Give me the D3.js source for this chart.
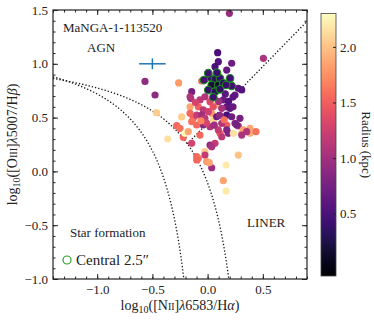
<!DOCTYPE html>
<html>
<head>
<meta charset="utf-8">
<script src="https://cdn.jsdelivr.net/npm/d3@7"></script>
<style>
  body { margin: 0; background: #fff; }
  svg text { font-family: "Liberation Serif", "DejaVu Serif", serif; fill: #222; }
</style>
</head>
<body>
<div id="stage"></div>
<script>
// spaxel line ratios (log10) and radius in kpc
const nii = [-0.567, -0.476, -0.262, -0.463, -0.361, -0.235, -0.280, -0.250, -0.220, -0.205,
  0.197, 0.505, 0.091, 0.097, 0.067, 0.218, 0.173, -0.053, 0.278, 0.309,
  0.248, -0.144, -0.153, -0.069, -0.024, 0.022, 0.082, 0.142, 0.173, 0.203,
  0.128, -0.084, -0.039, -0.159, -0.159, -0.130, -0.099, -0.053, -0.024, 0.037,
  0.052, 0.082, 0.173, 0.218, 0.293, 0.248, 0.278, 0.173, 0.128, 0.022,
  -0.039, -0.099, -0.144, -0.175, -0.069, -0.144, 0.112, 0.128, 0.188, 0.233,
  0.309, 0.323, 0.384, 0.384, 0.438, 0.354, 0.022, 0.067, -0.024, -0.099,
  0.278, -0.084, -0.024, 0.006, 0.173, 0.097, 0.264, 0.309, 0.037, -0.008,
  0.037, 0.167, 0.015, 0.142, 0.167, -0.099, -0.159, 0.230,
  0.160, 0.190, -0.110, 0.050, 0.110, -0.010, 0.060, 0.230, -0.060, 0.150, 0.100];
const oiii = [0.836, 0.710, 0.822, 0.546, 0.301, 0.506, 0.425, 0.399, 0.317, 0.354,
  1.469, 1.051, 1.103, 1.020, 0.973, 1.005, 0.942, 0.840, 0.772, 0.757,
  0.710, 0.741, 0.679, 0.664, 0.694, 0.648, 0.617, 0.664, 0.601, 0.586,
  0.586, 0.601, 0.571, 0.601, 0.540, 0.493, 0.524, 0.524, 0.493, 0.540,
  0.478, 0.508, 0.524, 0.508, 0.493, 0.447, 0.422, 0.431, 0.447, 0.415,
  0.431, 0.431, 0.462, 0.369, 0.338, 0.261, 0.354, 0.322, 0.354, 0.354,
  0.354, 0.385, 0.401, 0.354, 0.369, 0.369, 0.245, 0.261, 0.183, 0.137,
  0.152, 0.122, 0.152, 0.555, 0.385, 0.385, 0.431, 0.338, 0.230, 0.090,
  0.034, 0.059, 0.081, -0.086, -0.182, 0.106, 0.694, 0.691,
  0.720, 0.650, 0.640, 0.600, 0.520, 0.450, 0.430, 0.600, 0.470, 0.480, 0.650];
const radius = [0.9, 0.9, 1.8, 2.05, 2.15, 2.05, 1.55, 1.6, 1.55, 2.3,
  0.95, 1.05, 0.5, 0.55, 0.5, 0.7, 0.65, 1.55, 0.6, 0.55,
  0.65, 0.75, 1.0, 1.15, 1.1, 1.35, 1.95, 0.7, 0.65, 0.6,
  1.05, 1.5, 1.15, 1.85, 1.55, 1.5, 1.2, 1.0, 1.15, 1.8,
  2.1, 0.7, 0.5, 0.7, 0.75, 0.8, 1.05, 1.5, 1.1, 1.1,
  0.85, 1.55, 1.6, 1.85, 1.55, 1.3, 1.5, 1.15, 0.8, 2.15,
  2.0, 1.85, 1.85, 1.9, 1.6, 1.1, 0.9, 1.2, 2.05, 1.55,
  2.0, 1.6, 1.2, 1.25, 0.8, 1.2, 0.75, 1.05, 1.05, 1.8,
  1.0, 2.2, 1.85, 1.85, 2.2, 1.55, 1.1, 0.6,
  0.6, 0.55, 1.3, 1.4, 0.9, 1.3, 1.0, 0.65, 1.7, 1.6, 1.0];

// spaxels inside the central 2.5"
const cNii = [0.015, 0.067, 0.112, 0.037, 0.097, 0.142, 0.203, 0.218, 0.006, 0.067, 0.112, 0.052, 0.167, -0.033, 0.085, 0.006];
const cOiii = [0.875, 0.856, 0.865, 0.803, 0.803, 0.819, 0.865, 0.794, 0.756, 0.741, 0.763, 0.689, 0.803, 0.849, 0.917, 0.913];
const cRadius = [0.35, 0.3, 0.4, 0.2, 0.15, 0.3, 0.45, 0.45, 0.4, 0.3, 0.35, 0.45, 0.4, 0.5, 0.4, 0.45];

// typical error bar
const errPoint = [-0.5, 1.0];
const errSize = [0.12, 0.05];

const xTicks = [-1.0, -0.5, 0.0, 0.5];
const yTicks = [-1.0, -0.5, 0.0, 0.5, 1.0, 1.5];
const cbTicks = [0.5, 1.0, 1.5, 2.0];
const cbRange = [-0.06, 2.3];

const W = 374, H = 321;
const m = { left: 53, top: 10, right: 307, bottom: 279 };

const svg = d3.select("#stage").append("svg")
  .attr("width", W).attr("height", H);

const x = d3.scaleLinear().domain([-1.4, 0.9]).range([m.left, m.right]);
const y = d3.scaleLinear().domain([-1.0, 1.5]).range([m.bottom, m.top]);
const color = d3.scaleSequential(d3.interpolateMagma).domain(cbRange);

const fmt = d => d3.format(".1f")(d).replace("-", "\u2212");

svg.append("defs").append("clipPath").attr("id", "clip")
  .append("rect").attr("x", m.left).attr("y", m.top)
  .attr("width", m.right - m.left).attr("height", m.bottom - m.top);

// demarcation lines
const kauff = d3.range(-1.4, -0.2152, 0.005).concat([-0.2152]).map(v => [v, 0.61 / (v - 0.05) + 1.3]);
const kewley = d3.range(-1.4, 0.1915, 0.005).concat([0.1915]).map(v => [v, 0.61 / (v - 0.47) + 1.19]);
const liner = [-0.184, 0.9].map(v => [v, 1.05 * v + 0.45]);
const line = d3.line().x(d => x(d[0])).y(d => y(d[1]));

const curves = svg.append("g").attr("clip-path", "url(#clip)");
[kauff, kewley, liner].forEach(c => {
  curves.append("path").attr("d", line(c))
    .attr("fill", "none").attr("stroke", "#111")
    .attr("stroke-width", 1.3).attr("stroke-dasharray", "1.3,2");
});

// points
const pts = nii.map((v, i) => ({ x: v, y: oiii[i], r: radius[i] }));
svg.append("g").selectAll("circle").data(pts).join("circle")
  .attr("cx", d => x(d.x)).attr("cy", d => y(d.y)).attr("r", 3.6)
  .attr("fill", d => color(d.r));

const cpts = cNii.map((v, i) => ({ x: v, y: cOiii[i], r: cRadius[i] }));
svg.append("g").selectAll("circle").data(cpts).join("circle")
  .attr("cx", d => x(d.x)).attr("cy", d => y(d.y)).attr("r", 3.8)
  .attr("fill", d => color(d.r))
  .attr("stroke", "#1d8a1d").attr("stroke-width", 1.1);

// error cross
const eb = svg.append("g").attr("stroke", "#1f77b4").attr("stroke-width", 1.5);
eb.append("line").attr("x1", x(errPoint[0] - errSize[0])).attr("x2", x(errPoint[0] + errSize[0]))
  .attr("y1", y(errPoint[1])).attr("y2", y(errPoint[1]));
eb.append("line").attr("x1", x(errPoint[0])).attr("x2", x(errPoint[0]))
  .attr("y1", y(errPoint[1] - errSize[1])).attr("y2", y(errPoint[1] + errSize[1]));

// axes with inward ticks on all sides
const xMinor = d3.range(-1.4, 0.91, 0.1).map(v => +v.toFixed(2));
const yMinor = d3.range(-1.0, 1.51, 0.1).map(v => +v.toFixed(2));

function addAxis(gen, tx, ty) {
  const g = svg.append("g").attr("transform", `translate(${tx},${ty})`).call(gen);
  g.select(".domain").remove();
  g.selectAll("line").attr("stroke", "#222");
  g.selectAll("text").attr("font-size", 13).attr("font-family", "Liberation Serif").attr("fill", "#222");
  return g;
}
addAxis(d3.axisBottom(x).tickValues(xTicks).tickSize(-5).tickPadding(6).tickFormat(fmt), 0, m.bottom);
addAxis(d3.axisBottom(x).tickValues(xMinor).tickSize(-2.5).tickFormat(""), 0, m.bottom);
addAxis(d3.axisTop(x).tickValues(xTicks).tickSize(-5).tickFormat(""), 0, m.top);
addAxis(d3.axisTop(x).tickValues(xMinor).tickSize(-2.5).tickFormat(""), 0, m.top);
addAxis(d3.axisLeft(y).tickValues(yTicks).tickSize(-5).tickPadding(5).tickFormat(fmt), m.left, 0);
addAxis(d3.axisLeft(y).tickValues(yMinor).tickSize(-2.5).tickFormat(""), m.left, 0);
addAxis(d3.axisRight(y).tickValues(yTicks).tickSize(-5).tickFormat(""), m.right, 0);
addAxis(d3.axisRight(y).tickValues(yMinor).tickSize(-2.5).tickFormat(""), m.right, 0);

svg.append("rect").attr("x", m.left).attr("y", m.top)
  .attr("width", m.right - m.left).attr("height", m.bottom - m.top)
  .attr("fill", "none").attr("stroke", "#222").attr("stroke-width", 1.2);

// annotations
const ann = (t, px, py, fs) => svg.append("text").attr("x", px).attr("y", py)
  .attr("font-size", fs).text(t);
ann("MaNGA-1-113520", 63, 32, 13);
ann("AGN", 87, 52, 13);
ann("Star formation", 70, 237, 13);
ann("LINER", 247, 227, 13);

// legend
svg.append("circle").attr("cx", 67).attr("cy", 260).attr("r", 4)
  .attr("fill", "none").attr("stroke", "#2ca02c").attr("stroke-width", 1.2);
ann("Central 2.5\u2033", 76, 265, 15);

// axis labels
const xl = svg.append("text").attr("x", (m.left + m.right) / 2).attr("y", 310)
  .attr("text-anchor", "middle").attr("font-size", 14);
xl.append("tspan").text("log");
xl.append("tspan").attr("font-size", 10).attr("dy", 3).text("10");
xl.append("tspan").attr("dy", -3).text("([N");
xl.append("tspan").attr("font-size", 10).text("II");
xl.append("tspan").text("]");
xl.append("tspan").attr("font-style", "italic").text("\u03bb");
xl.append("tspan").text("6583/H");
xl.append("tspan").attr("font-style", "italic").text("\u03b1");
xl.append("tspan").text(")");

const yl = svg.append("text")
  .attr("transform", `translate(17,${(m.top + m.bottom) / 2}) rotate(-90)`)
  .attr("text-anchor", "middle").attr("font-size", 14);
yl.append("tspan").text("log");
yl.append("tspan").attr("font-size", 10).attr("dy", 3).text("10");
yl.append("tspan").attr("dy", -3).text("([O");
yl.append("tspan").attr("font-size", 10).text("III");
yl.append("tspan").text("]");
yl.append("tspan").attr("font-style", "italic").text("\u03bb");
yl.append("tspan").text("5007/H");
yl.append("tspan").attr("font-style", "italic").text("\u03b2");
yl.append("tspan").text(")");

// colorbar
const cb = { x: 321, w: 15, top: 13.5, bottom: 276 };
const cy = d3.scaleLinear().domain(cbRange).range([cb.bottom, cb.top]);
const grad = svg.select("defs").append("linearGradient").attr("id", "cbgrad")
  .attr("x1", 0).attr("y1", 1).attr("x2", 0).attr("y2", 0);
d3.range(0, 1.0001, 0.05).forEach(t => {
  grad.append("stop").attr("offset", t).attr("stop-color", d3.interpolateMagma(t));
});
svg.append("rect").attr("x", cb.x).attr("y", cb.top)
  .attr("width", cb.w).attr("height", cb.bottom - cb.top)
  .attr("fill", "url(#cbgrad)").attr("stroke", "#444").attr("stroke-width", 0.8);
addAxis(d3.axisRight(cy).tickValues(cbTicks).tickSize(-3).tickPadding(4).tickFormat(d3.format(".1f")), cb.x + cb.w, 0);

svg.append("text")
  .attr("transform", `translate(362,${(cb.top + cb.bottom) / 2}) rotate(90)`)
  .attr("text-anchor", "middle").attr("font-size", 13).text("Radius (kpc)");
</script>
</body>
</html>
